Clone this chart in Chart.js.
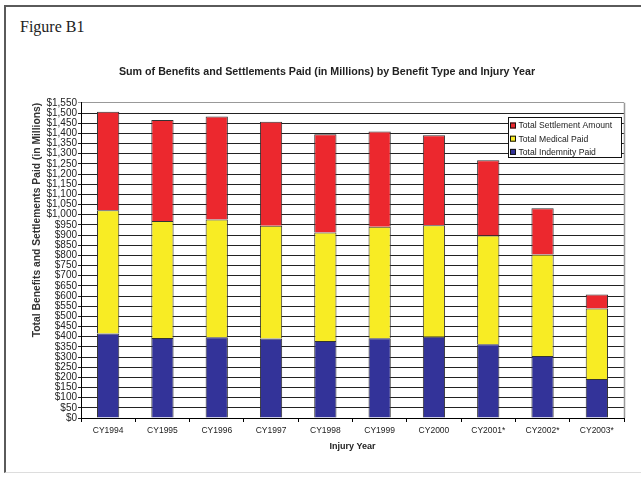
<!DOCTYPE html>
<html>
<head>
<meta charset="utf-8">
<script src="https://cdn.jsdelivr.net/npm/chart.js@4"></script>
<style>
  body { margin: 0; background: #fff; }
  #wrap { position: relative; width: 641px; height: 483px; overflow: hidden; }
  #frame { position: absolute; left: 4px; top: 5px; width: 650px; height: 465px;
           border-left: 2px solid #5a5a5a; border-top: 2px solid #5a5a5a; border-bottom: 1px solid #ddd; }
  #fig { position: absolute; left: 20px; top: 18px; font: 16px "Liberation Serif", "Times New Roman", serif; line-height: 18px; color: #222; }
  canvas { position: absolute; left: 0; top: 0; }
</style>
</head>
<body>
<div id="wrap">
  <div id="frame"></div>
  <div id="fig">Figure B1</div>
  <canvas id="chart" width="641" height="483"></canvas>
</div>
<script>
// chart data
const years = ["CY1994", "CY1995", "CY1996", "CY1997", "CY1998", "CY1999", "CY2000", "CY2001*", "CY2002*", "CY2003*"];
const indemnityPaid = [415, 394, 397, 391, 379, 392, 400, 363, 305, 192];
const medicalPaid = [607, 575, 579, 554, 533, 548, 548, 534, 499, 346];
const settlementAmount = [484, 496, 507, 512, 483, 469, 442, 371, 228, 69];
const yMax = 1550;
const yStep = 50;

const font = "Arial, 'Liberation Sans', sans-serif";

// gray right edge of the plot area + the boxed legend
const framePlugin = {
    id: "frame",
    afterDraw(chart) {
        const { ctx, chartArea } = chart;
        ctx.save();
        ctx.strokeStyle = "#999";
        ctx.lineWidth = 1.5;
        ctx.beginPath();
        ctx.moveTo(chartArea.right + 0.5, chartArea.top);
        ctx.lineTo(chartArea.right + 0.5, chartArea.bottom);
        ctx.stroke();

        // legend, top item = top of stack
        const x = 508, y = 117, w = 113, h = 40;
        ctx.fillStyle = "#fff";
        ctx.fillRect(x, y, w, h);
        ctx.strokeStyle = "#111";
        ctx.lineWidth = 1;
        ctx.strokeRect(x + 0.5, y + 0.5, w, h);
        ctx.font = "8.6px " + font;
        ctx.textBaseline = "middle";
        const sets = chart.data.datasets.slice().reverse();
        sets.forEach((ds, i) => {
            const cy = y + 8.5 + i * 13.2;
            ctx.fillStyle = ds.backgroundColor;
            ctx.fillRect(x + 2, cy - 3, 6, 6);
            ctx.strokeStyle = "#111";
            ctx.strokeRect(x + 2.5, cy - 2.5, 5, 5);
            ctx.fillStyle = "#222";
            ctx.fillText(ds.label, x + 10.5, cy + 0.5);
        });
        ctx.restore();
    },
};

const ctx = document.getElementById("chart");
new Chart(ctx, {
    type: "bar",
    data: {
        labels: years,
        datasets: [
            { label: "Total Indemnity Paid", data: indemnityPaid, backgroundColor: "#333399" },
            { label: "Total Medical Paid", data: medicalPaid, backgroundColor: "#F8EC24" },
            { label: "Total Settlement Amount", data: settlementAmount, backgroundColor: "#EC282E" },
        ].map(d => Object.assign(d, { borderColor: "#333", borderWidth: 1, categoryPercentage: 1, barPercentage: 0.41 })),
    },
    options: {
        responsive: false,
        animation: false,
        layout: { padding: { left: 30, right: 17, top: 60, bottom: 31 } },
        plugins: {
            legend: { display: false },
            tooltip: { enabled: false },
            title: {
                display: true,
                text: "Sum of Benefits and Settlements Paid (in Millions) by Benefit Type and Injury Year",
                color: "#222",
                font: { family: font, size: 10.7, weight: "bold" },
                padding: { top: 6, bottom: 24 },
            },
        },
        scales: {
            x: {
                stacked: true,
                afterFit: s => { s.height = 34; },
                grid: { drawOnChartArea: false, color: "#000", tickLength: 4, offset: true },
                border: { color: "#000", width: 1 },
                ticks: { color: "#222", font: { family: font, size: 8.5 }, padding: 4, maxRotation: 0, autoSkip: false },
                title: { display: true, text: "Injury Year", color: "#222", font: { family: font, size: 9, weight: "bold" }, padding: 0 },
            },
            y: {
                stacked: true,
                min: 0,
                max: yMax,
                afterFit: s => { s.width = 51; },
                grid: {
                    color: c => (c.tick && c.tick.value === yMax ? "#999" : "#222"),
                    tickLength: 3,
                },
                border: { color: "#000", width: 1 },
                ticks: {
                    stepSize: yStep,
                    autoSkip: false,
                    color: "#222",
                    padding: 1,
                    font: { family: font, size: 10 },
                    callback: v => "$" + v.toLocaleString("en-US"),
                },
                title: {
                    display: true,
                    align: "end",
                    text: "Total Benefits and Settlements Paid (in Millions)",
                    color: "#333",
                    font: { family: font, size: 10.3, weight: "bold" },
                    padding: { top: 1, bottom: 0 },
                },
            },
        },
    },
    plugins: [framePlugin],
});
</script>
</body>
</html>
